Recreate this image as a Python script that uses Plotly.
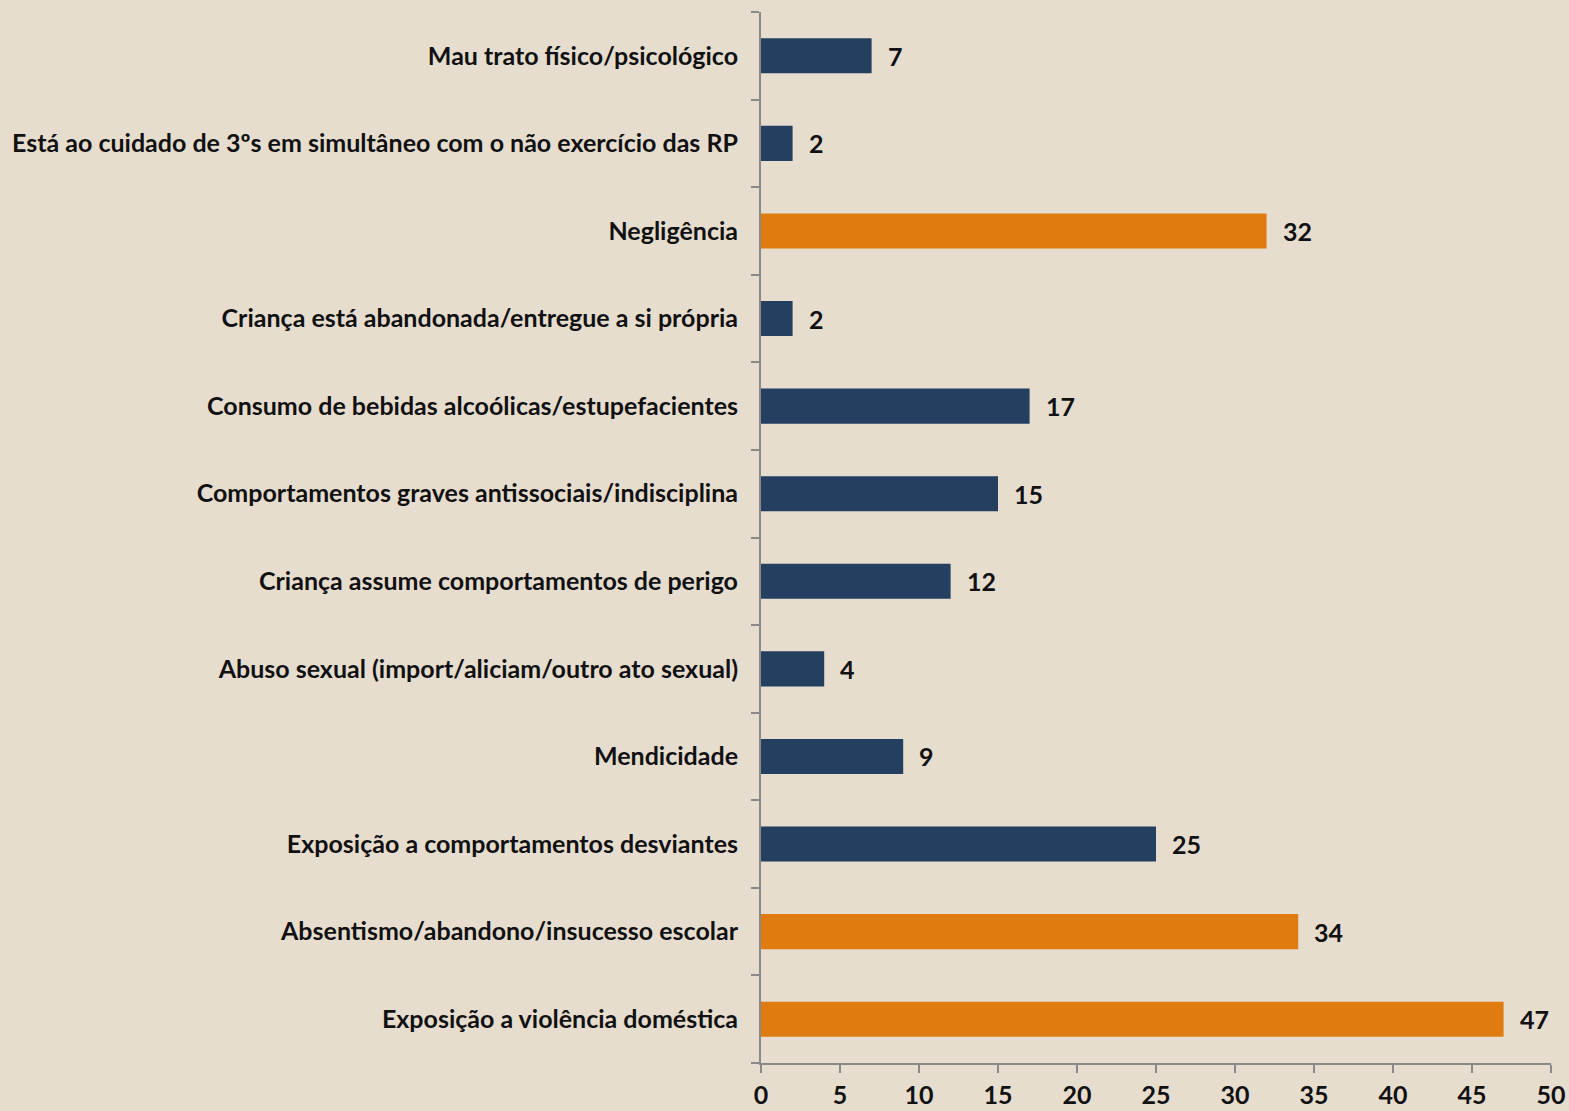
import plotly.graph_objects as go

# categories top to bottom as shown in the chart
categories = [
    "Mau trato físico/psicológico",
    "Está ao cuidado de 3ºs em simultâneo com o não exercício das RP",
    "Negligência",
    "Criança está abandonada/entregue a si própria",
    "Consumo de bebidas alcoólicas/estupefacientes",
    "Comportamentos graves antissociais/indisciplina",
    "Criança assume comportamentos de perigo",
    "Abuso sexual (import/aliciam/outro ato sexual)",
    "Mendicidade",
    "Exposição a comportamentos desviantes",
    "Absentismo/abandono/insucesso escolar",
    "Exposição a violência doméstica",
]
values = [7, 2, 32, 2, 17, 15, 12, 4, 9, 25, 34, 47]
highlight = [False, False, True, False, False, False, False, False, False, False, True, True]

NAVY = "#243f60"
ORANGE = "#e07b10"
FONT = "Lato, 'Open Sans', sans-serif"
FSIZE = 25

colors = [ORANGE if h else NAVY for h in highlight]

fig = go.Figure()
fig.add_trace(go.Bar(
    x=values, y=categories, orientation="h",
    marker=dict(color=colors, line=dict(width=0)),
    width=0.4,
    hoverinfo="x+y",
))

# value labels to the right of each bar
for cat, v in zip(categories, values):
    fig.add_annotation(x=v, y=cat, text=str(v), showarrow=False,
                       xanchor="left", yanchor="middle", xshift=14,
                       font=dict(family=FONT, size=FSIZE, color="#111111", weight="bold"))

fig.update_layout(
    width=1569, height=1111,
    margin=dict(l=761, r=18, t=12, b=48),
    paper_bgcolor="#e6ddcf",
    plot_bgcolor="#e6ddcf",
    showlegend=False,
    font=dict(family=FONT, size=FSIZE, color="#111111", weight="bold"),
)
fig.update_xaxes(
    range=[0, 50], dtick=5, tick0=0,
    showgrid=False, zeroline=False, automargin=False,
    showline=True, linecolor="#8a8a8a", linewidth=2,
    ticks="outside", ticklen=8, tickcolor="#8a8a8a", tickwidth=2,
    ticklabelstandoff=1,
    tickfont=dict(family=FONT, size=FSIZE, color="#111111", weight="bold"),
)
fig.update_yaxes(
    categoryorder="array", categoryarray=categories[::-1],
    showgrid=False, zeroline=False, automargin=False,
    showline=True, linecolor="#8a8a8a", linewidth=2,
    ticks="outside", ticklen=8, tickcolor="#8a8a8a", tickwidth=2,
    tickson="boundaries",
    ticklabelstandoff=16,
    tickfont=dict(family=FONT, size=FSIZE, color="#111111", weight="bold"),
)

fig.write_html("out.html", config={"displayModeBar": False},
               post_script="document.body.style.margin='0';")
